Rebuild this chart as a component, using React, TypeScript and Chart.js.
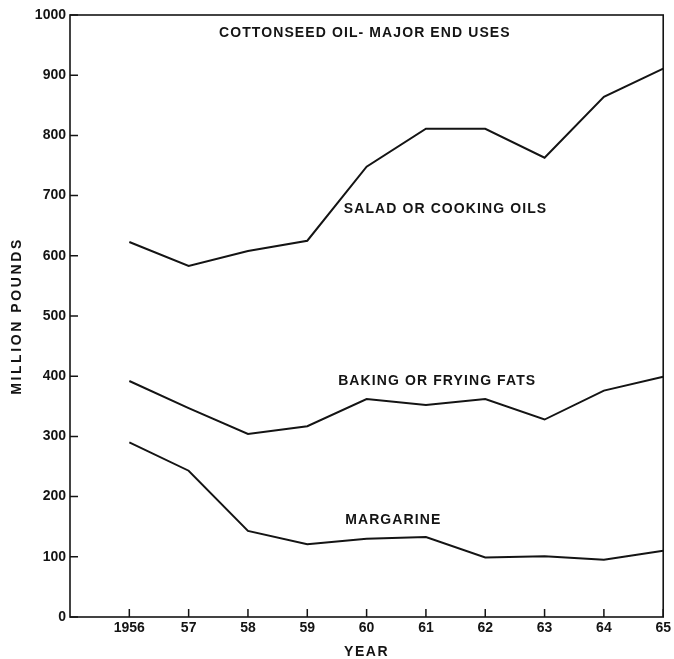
import { useEffect, useRef } from 'react';
import { Chart, registerables } from 'chart.js';

Chart.register(...registerables);

const years = [1956, 1957, 1958, 1959, 1960, 1961, 1962, 1963, 1964, 1965];
const yearLabels = ['1956', '57', '58', '59', '60', '61', '62', '63', '64', '65'];
const saladOils = [623, 583, 608, 625, 748, 811, 811, 763, 864, 911];
const bakingFats = [392, 347, 304, 317, 362, 352, 362, 328, 376, 399];
const margarine = [290, 243, 143, 121, 130, 133, 99, 101, 95, 110];
const yTickValues = [0, 100, 200, 300, 400, 500, 600, 700, 800, 900, 1000];

const seriesNames = ['SALAD OR COOKING OILS', 'BAKING OR FRYING FATS', 'MARGARINE'];
const seriesLabelYears = [1961.33, 1961.19, 1960.45];
const seriesLabelValues = [678, 391, 161];
const chartTitle = 'COTTONSEED OIL- MAJOR END USES';
const chartTitleYear = 1959.97;
const chartTitleValue = 970;
const xTitle = 'YEAR';
const yTitle = 'MILLION POUNDS';

const INK = '#141414';
const FONT = '"Liberation Sans", Arial, sans-serif';

const decorPlugin = {
  id: 'decor',
  afterDraw(chart: any) {
    const { ctx, chartArea: a, scales } = chart;
    const x = scales.x;
    const y = scales.y;
    ctx.save();
    ctx.strokeStyle = INK;
    ctx.lineWidth = 1.6;
    ctx.strokeRect(a.left, a.top, a.right - a.left, a.bottom - a.top);
    ctx.lineWidth = 1.5;
    ctx.beginPath();
    yTickValues.forEach((v) => {
      const py = y.getPixelForValue(v);
      ctx.moveTo(a.left, py);
      ctx.lineTo(a.left + 8, py);
    });
    years.forEach((yr) => {
      const px = x.getPixelForValue(yr);
      ctx.moveTo(px, a.bottom);
      ctx.lineTo(px, a.bottom - 8);
    });
    ctx.stroke();

    ctx.fillStyle = INK;
    ctx.font = `bold 14px ${FONT}`;
    ctx.textAlign = 'center';
    ctx.textBaseline = 'middle';
    (ctx as any).letterSpacing = '1.1px';
    ctx.fillText(chartTitle, x.getPixelForValue(chartTitleYear), y.getPixelForValue(chartTitleValue));
    seriesNames.forEach((name, i) => {
      ctx.fillText(name, x.getPixelForValue(seriesLabelYears[i]), y.getPixelForValue(seriesLabelValues[i]));
    });

    (ctx as any).letterSpacing = '1.6px';
    ctx.fillText(xTitle, (a.left + a.right) / 2, a.bottom + 35);
    ctx.save();
    ctx.translate(17, (a.top + a.bottom) / 2);
    ctx.rotate(-Math.PI / 2);
    (ctx as any).letterSpacing = '2.6px';
    ctx.font = `bold 14px ${FONT}`;
    ctx.fillText(yTitle, 0, 0);
    ctx.restore();
    (ctx as any).letterSpacing = '0px';
    ctx.restore();
  },
};

export default function App() {
  const canvasRef = useRef<HTMLCanvasElement | null>(null);

  useEffect(() => {
    document.body.style.margin = '0';
    const canvas = canvasRef.current;
    if (!canvas) return;
    const mk = (vals: number[]) => years.map((yr, i) => ({ x: yr, y: vals[i] }));
    const lineStyle = {
      borderColor: INK,
      borderWidth: 2,
      pointRadius: 0,
      tension: 0,
      fill: false,
    };
    const chart = new Chart(canvas, {
      type: 'line',
      data: {
        datasets: [
          { label: seriesNames[0], data: mk(saladOils), ...lineStyle },
          { label: seriesNames[1], data: mk(bakingFats), ...lineStyle },
          { label: seriesNames[2], data: mk(margarine), ...lineStyle },
        ],
      },
      options: {
        animation: false,
        responsive: true,
        maintainAspectRatio: false,
        layout: { padding: { top: 15, right: 10, left: 0, bottom: 0 } },
        plugins: {
          legend: { display: false },
          tooltip: { enabled: false },
          title: { display: false },
        },
        scales: {
          x: {
            type: 'linear',
            min: 1955,
            max: 1965,
            grid: { display: false, drawTicks: false },
            border: { display: false },
            afterFit: (s: any) => {
              s.height = 42;
            },
            ticks: {
              stepSize: 1,
              autoSkip: false,
              maxRotation: 0,
              padding: 3,
              color: INK,
              font: { family: FONT, weight: 'bold', size: 14 },
              callback: (v: any) => {
                const i = years.indexOf(Number(v));
                return i >= 0 ? yearLabels[i] : '';
              },
            },
          },
          y: {
            type: 'linear',
            min: 0,
            max: 1000,
            grid: { display: false, drawTicks: false },
            border: { display: false },
            afterFit: (s: any) => {
              s.width = 70;
            },
            ticks: {
              stepSize: 100,
              padding: 4,
              color: INK,
              font: { family: FONT, weight: 'bold', size: 14 },
              callback: (v: any) => String(v),
            },
          },
        },
      },
      plugins: [decorPlugin],
    } as any);
    return () => chart.destroy();
  }, []);

  return (
    <div style={{ position: 'relative', width: '674px', height: '659px' }}>
      <canvas ref={canvasRef} />
    </div>
  );
}
